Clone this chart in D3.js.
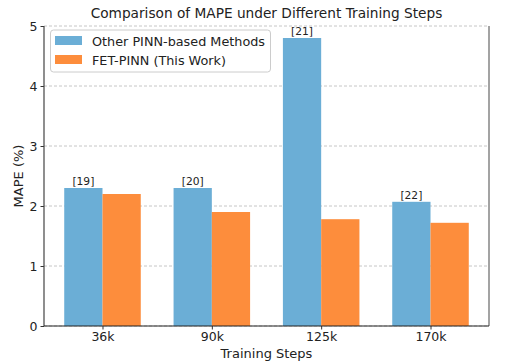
<!DOCTYPE html>
<meta charset="utf-8">
<style>
    body { margin: 0; background: #fff; }
    svg { font-family: "DejaVu Sans", sans-serif; }
    .grid line { stroke: #b8b8b8; stroke-width: 0.8px; stroke-dasharray: 3,2; }
</style>
<body>
<script src="https://d3js.org/d3.v7.min.js"></script>
<script>
    // Training step categories
    var steps = ["36k", "90k", "125k", "170k"];
    // MAPE (%) of other PINN-based methods
    var otherMape = [2.3, 2.3, 4.8, 2.07];
    // MAPE (%) of FET-PINN
    var fetMape = [2.2, 1.9, 1.78, 1.72];
    // Reference labels over the blue bars
    var refs = ["[19]", "[20]", "[21]", "[22]"];
    var yTicks = [0, 1, 2, 3, 4, 5];
    var seriesNames = ["Other PINN-based Methods", "FET-PINN (This Work)"];
    var colors = ["#6baed6", "#fd8d3c"];

    var W = 507, H = 364;
    var margin = {top: 26, right: 18, bottom: 38, left: 44};
    var width = W - margin.left - margin.right,
        height = H - margin.top - margin.bottom;
    var barW = 0.35;

    var svg = d3.select("body").append("svg")
        .attr("width", W)
        .attr("height", H);
    var g = svg.append("g")
        .attr("transform", "translate(" + margin.left + "," + margin.top + ")");

    // x is a linear scale over category index, like matplotlib
    var x = d3.scaleLinear()
        .domain([-0.535, steps.length - 1 + 0.535])
        .range([0, width]);
    var y = d3.scaleLinear()
        .domain([0, 5])
        .range([height, 0]);

    // grid lines
    g.append("g")
        .attr("class", "grid")
        .selectAll("line")
        .data(yTicks)
        .enter().append("line")
        .attr("x1", 0).attr("x2", width)
        .attr("y1", y).attr("y2", y);

    // bars
    var groups = [otherMape, fetMape];
    groups.forEach(function (vals, s) {
        g.append("g").selectAll("rect")
            .data(vals)
            .enter().append("rect")
            .attr("x", function (d, i) { return x(i + (s - 1) * barW); })
            .attr("width", x(barW) - x(0))
            .attr("y", y)
            .attr("height", function (d) { return height - y(d); })
            .attr("fill", colors[s]);
    });

    // reference labels
    g.append("g").selectAll("text")
        .data(otherMape)
        .enter().append("text")
        .attr("x", function (d, i) { return x(i - barW / 2); })
        .attr("y", function (d) { return y(d) - 3; })
        .attr("text-anchor", "middle")
        .attr("font-size", 10.7)
        .attr("fill", "#222")
        .text(function (d, i) { return refs[i]; });

    // axes
    var xAxis = d3.axisBottom(x)
        .tickValues(d3.range(steps.length))
        .tickFormat(function (i) { return steps[i]; })
        .tickSize(3.5)
        .tickPadding(3);
    var gx = g.append("g")
        .attr("transform", "translate(0," + height + ")")
        .call(xAxis);
    var yAxis = d3.axisLeft(y)
        .tickValues(yTicks)
        .tickFormat(d3.format("d"))
        .tickSize(3.5)
        .tickPadding(3);
    var gy = g.append("g").call(yAxis);

    [gx, gy].forEach(function (a) {
        a.selectAll("text").attr("font-size", 12.5).attr("fill", "#222")
            .attr("font-family", "DejaVu Sans, sans-serif");
        a.selectAll("line").attr("stroke", "#333");
        a.select(".domain").remove();
    });

    // spines: left, bottom, right (no top)
    g.append("line").attr("x1", 0).attr("x2", 0).attr("y1", 0).attr("y2", height)
        .attr("stroke", "#444").attr("stroke-width", 1.2);
    g.append("line").attr("x1", width).attr("x2", width).attr("y1", 0).attr("y2", height)
        .attr("stroke", "#666").attr("stroke-width", 1.2);
    g.append("line").attr("x1", 0).attr("x2", width).attr("y1", height).attr("y2", height)
        .attr("stroke", "#222").attr("stroke-width", 1.2);

    // title and axis labels
    svg.append("text")
        .attr("x", margin.left + width / 2)
        .attr("y", 18)
        .attr("text-anchor", "middle")
        .attr("font-size", 13.7)
        .attr("fill", "#222")
        .text("Comparison of MAPE under Different Training Steps");
    svg.append("text")
        .attr("x", margin.left + width / 2)
        .attr("y", 358)
        .attr("text-anchor", "middle")
        .attr("font-size", 13)
        .attr("fill", "#222")
        .text("Training Steps");
    svg.append("text")
        .attr("transform", "translate(23," + (margin.top + height / 2) + ") rotate(-90)")
        .attr("text-anchor", "middle")
        .attr("font-size", 13)
        .attr("fill", "#222")
        .text("MAPE (%)");

    // legend
    var lg = g.append("g").attr("transform", "translate(6.5,4)");
    lg.append("rect")
        .attr("width", 220).attr("height", 42)
        .attr("rx", 3)
        .attr("fill", "#fff").attr("fill-opacity", 0.8)
        .attr("stroke", "#ccc");
    seriesNames.forEach(function (name, s) {
        var row = lg.append("g").attr("transform", "translate(4.5," + (6 + s * 19) + ")");
        row.append("rect").attr("width", 27).attr("height", 9).attr("fill", colors[s]);
        row.append("text").attr("x", 37).attr("y", 9.5)
            .attr("font-size", 12.8).attr("fill", "#222")
            .text(name);
    });
</script>
</body>
